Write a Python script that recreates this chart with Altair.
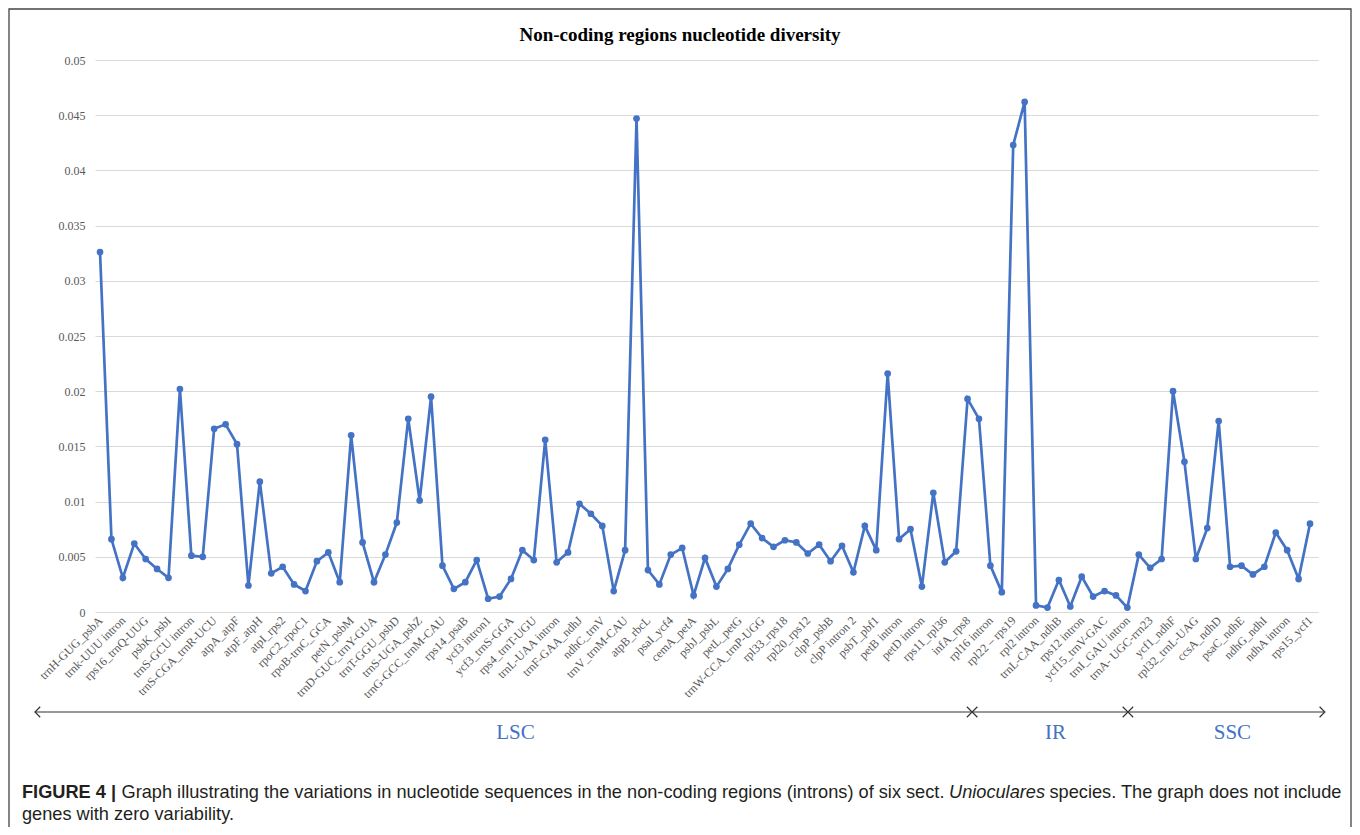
import altair as alt
import pandas as pd

# ---- data ----
labels = [
    "trnH-GUG_psbA", "trnk-UUU intron", "rps16_trnQ-UUG", "psbK_psbI", "trnS-GCU intron",
    "trnS-CGA_trnR-UCU", "atpA_atpF", "atpF_atpH", "atpI_rps2", "rpoC2_rpoC1",
    "rpoB-trnC_GCA", "petN_psbM", "trnD-GUC_trnY-GUA", "trnT-GGU_psbD", "trnS-UGA_psbZ",
    "trnG-GCC_trnM-CAU", "rps14_psaB", "ycf3 intron1", "ycf3_trnS-GGA", "rps4_trnT-UGU",
    "trnL-UAA intron", "trnF-GAA_ndhJ", "ndhC_trnV", "trnV_trnM-CAU", "atpB_rbcL",
    "psaI_ycf4", "cemA_petA", "psbJ_psbL", "petL_petG", "trnW-CCA_trnP-UGG",
    "rpl33_rps18", "rpl20_rps12", "clpP_psbB", "clpP intron 2", "psbT_pbf1",
    "petB intron", "petD intron", "rps11_rpl36", "infA_rps8", "rpl16 intron",
    "rpl22 – rps19", "rpl2 intron", "trnL-CAA_ndhB", "rps12 intron", "ycf15_trnV-GAC",
    "trnI_GAU intron", "trnA- UGC-rrn23", "ycf1_ndhF", "rpl32_trnL-UAG", "ccsA_ndhD",
    "psaC_ndhE", "ndhG_ndhI", "ndhA intron", "rps15_ycf1",
]

diversity = [
    0.0326, 0.0066, 0.0031, 0.0062, 0.0048, 0.0039, 0.0031, 0.0202, 0.0051, 0.0050,
    0.0166, 0.0170, 0.0152, 0.0024, 0.0118, 0.0035, 0.0041, 0.0025, 0.0019, 0.0046,
    0.0054, 0.0027, 0.0160, 0.0063, 0.0027, 0.0052, 0.0081, 0.0175, 0.0101, 0.0195,
    0.0042, 0.0021, 0.0027, 0.0047, 0.0012, 0.0014, 0.0030, 0.0056, 0.0047, 0.0156,
    0.0045, 0.0054, 0.0098, 0.0089, 0.0078, 0.0019, 0.0056, 0.0447, 0.0038, 0.0025,
    0.0052, 0.0058, 0.0015, 0.0049, 0.0023, 0.0039, 0.0061, 0.0080, 0.0067, 0.0059,
    0.0065, 0.0063, 0.0053, 0.0061, 0.0046, 0.0060, 0.0036, 0.0078, 0.0056, 0.0216,
    0.0066, 0.0075, 0.0023, 0.0108, 0.0045, 0.0055, 0.0193, 0.0175, 0.0042, 0.0018,
    0.0423, 0.0462, 0.0006, 0.0004, 0.0029, 0.0005, 0.0032, 0.0014, 0.0019, 0.0015,
    0.0004, 0.0052, 0.0040, 0.0048, 0.0200, 0.0136, 0.0048, 0.0076, 0.0173, 0.0041,
    0.0042, 0.0034, 0.0041, 0.0072, 0.0056, 0.0030, 0.0080,
]

y_ticks = [0, 0.005, 0.01, 0.015, 0.02, 0.025, 0.03, 0.035, 0.04, 0.045, 0.05]

regions = ["LSC", "IR", "SSC"]
region_start = [-5.7, 76.4, 90.05]
region_end = [76.4, 90.05, 107.3]
region_label_pos = [36.4, 83.7, 99.2]

title_text = "Non-coding regions nucleotide diversity"
caption_bold = "FIGURE 4 |"
caption_a = "Graph illustrating the variations in nucleotide sequences in the non-coding regions (introns) of six sect."
caption_italic = "Unioculares"
caption_b = "species. The graph does not include"
caption_line2 = "genes with zero variability."

# ---- build ----
df = pd.DataFrame({"idx": list(range(len(diversity))), "pi": diversity})
reg_rule = pd.DataFrame({"idx": region_start, "idx_end": region_end})
reg_left = pd.DataFrame({"idx": region_start})
reg_right = pd.DataFrame({"idx": region_end})
reg_text = pd.DataFrame({"idx": region_label_pos, "region": regions})
one = pd.DataFrame({"k": [0]})

BLUE = "#4472C4"
SERIF = "Liberation Serif"
SANS = "Liberation Sans"
XDOM = [-0.44, 106.7]

label_array = "[" + ",".join("'" + l + "'" for l in labels) + "]"

def x_enc():
    return alt.X(
        "idx:Q",
        scale=alt.Scale(domain=XDOM, nice=False, zero=False),
        axis=alt.Axis(
            values=list(range(0, len(diversity), 2)),
            labelExpr=label_array + "[round(datum.value / 2)]",
            labelAngle=-45,
            labelAlign="right",
            labelBaseline="middle",
            labelFont=SERIF,
            labelFontSize=12,
            labelColor="#595959",
            labelOverlap=False,
            labelFlush=False,
            labelBound=False,
            labelPadding=6,
            grid=False,
            domain=False,
            ticks=False,
            title=None,
        ),
    )

y_enc = alt.Y(
    "pi:Q",
    scale=alt.Scale(domain=[0, 0.05], nice=False),
    axis=alt.Axis(
        values=y_ticks,
        format="~g",
        labelFont=SERIF,
        labelFontSize=12,
        labelColor="#595959",
        labelPadding=10,
        grid=True,
        gridColor="#d9d9d9",
        gridWidth=1,
        domain=False,
        ticks=False,
        title=None,
    ),
)

base = alt.Chart(df).encode(x=x_enc(), y=y_enc)
line = base.mark_line(color=BLUE, strokeWidth=2.7)
pts = base.mark_circle(color=BLUE, size=45, opacity=1)

arrow_rule = alt.Chart(reg_rule).mark_rule(color="#333333", strokeWidth=1.1).encode(
    x=x_enc(), x2="idx_end:Q", y=alt.value(652)
)
left_head = alt.Chart(reg_left).mark_point(
    shape="M1,-1L0,0L1,1", size=110, filled=False, color="#333333", strokeWidth=1.2, opacity=1
).encode(x=x_enc(), y=alt.value(652))
right_head = alt.Chart(reg_right).mark_point(
    shape="M-1,-1L0,0L-1,1", size=110, filled=False, color="#333333", strokeWidth=1.2, opacity=1
).encode(x=x_enc(), y=alt.value(652))
region_text = alt.Chart(reg_text).mark_text(font=SERIF, fontSize=21, color=BLUE).encode(
    x=x_enc(), y=alt.value(673), text="region:N"
)

title_mark = alt.Chart(one).mark_text(font=SERIF, fontSize=19, fontWeight="bold", color="black",
                                      text=title_text).encode(x=alt.value(585), y=alt.value(-25))

CAP = 18.2
cap1 = alt.Chart(one).mark_text(font=SANS, fontSize=CAP, fontWeight="bold", align="left", color="#231f20",
                                text=caption_bold).encode(x=alt.value(-73), y=alt.value(733))
cap2 = alt.Chart(one).mark_text(font=SANS, fontSize=CAP, align="left", color="#231f20",
                                text=caption_a).encode(x=alt.value(26.5), y=alt.value(733))
cap3 = alt.Chart(one).mark_text(font=SANS, fontSize=CAP, fontStyle="italic", align="left", color="#231f20",
                                text=caption_italic).encode(x=alt.value(854), y=alt.value(733))
cap4 = alt.Chart(one).mark_text(font=SANS, fontSize=CAP, align="left", color="#231f20",
                                text=caption_b).encode(x=alt.value(954.5), y=alt.value(733))
cap5 = alt.Chart(one).mark_text(font=SANS, fontSize=CAP, align="left", color="#231f20",
                                text=caption_line2).encode(x=alt.value(-73), y=alt.value(755))

border = alt.Chart(one).mark_rect(filled=False, stroke="#444444", strokeWidth=1.3).encode(
    x=alt.value(-86), x2=alt.value(1256), y=alt.value(-51), y2=alt.value(820)
)

chart = alt.layer(
    line, pts, arrow_rule, left_head, right_head, region_text,
    title_mark, cap1, cap2, cap3, cap4, cap5, border
).properties(
    width=1223,
    height=552,
    autosize="none",
    padding={"left": 87, "top": 52, "right": 34, "bottom": 215},
).configure_view(stroke=None)

chart.save("out.html", embed_options={"renderer": "svg", "actions": False})
